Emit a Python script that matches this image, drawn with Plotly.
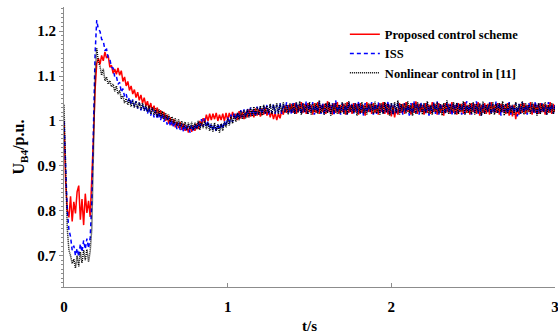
import plotly.graph_objects as go

# Time axis, 10 ms sampling from 0 to 3 s
t = [round(i * 0.01, 2) for i in range(301)]

# Bus B4 voltage (p.u.) under the proposed control scheme
u_proposed = [
    1.000, 0.865, 0.802, 0.785, 0.832, 0.776, 0.820, 0.794, 0.842, 0.856,
    0.780, 0.826, 0.768, 0.838, 0.795, 0.822, 0.786, 0.862, 0.965, 1.070,
    1.128, 1.140, 1.126, 1.146, 1.134, 1.154, 1.140, 1.146, 1.120, 1.124,
    1.106, 1.116, 1.104, 1.118, 1.102, 1.112, 1.088, 1.098, 1.078, 1.088,
    1.068, 1.078, 1.060, 1.070, 1.052, 1.064, 1.046, 1.058, 1.040, 1.052,
    1.034, 1.044, 1.026, 1.040, 1.022, 1.034, 1.016, 1.030, 1.010, 1.024,
    1.006, 1.020, 1.000, 1.014, 0.994, 1.008, 0.990, 1.004, 0.986, 0.998,
    0.984, 0.998, 0.980, 0.994, 0.978, 0.990, 0.974, 0.988, 0.976, 0.990,
    0.978, 0.994, 0.982, 1.000, 0.990, 1.006, 0.996, 1.014, 1.000, 1.016,
    1.002, 1.016, 1.004, 1.018, 1.000, 1.014, 1.002, 1.016, 1.000, 1.018,
    1.002, 1.018, 1.004, 1.020, 1.006, 1.016, 1.002, 1.022, 1.006, 1.020,
    1.004, 1.020, 1.008, 1.026, 1.010, 1.024, 1.008, 1.028, 1.012, 1.026,
    1.010, 1.028, 1.014, 1.030, 1.012, 1.026, 1.008, 1.022, 1.004, 1.018,
    1.002, 1.016, 1.006, 1.024, 1.014, 1.034, 1.018, 1.036, 1.020, 1.038,
    1.018, 1.040, 1.016, 1.036, 1.022, 1.042, 1.018, 1.038, 1.016, 1.040,
    1.020, 1.036, 1.014, 1.040, 1.018, 1.042, 1.016, 1.036, 1.020, 1.038,
    1.016, 1.044, 1.020, 1.036, 1.014, 1.040, 1.018, 1.042, 1.016, 1.036,
    1.020, 1.038, 1.014, 1.042, 1.018, 1.036, 1.016, 1.040, 1.020, 1.038,
    1.014, 1.040, 1.018, 1.036, 1.012, 1.042, 1.020, 1.038, 1.016, 1.040,
    1.018, 1.036, 1.014, 1.040, 1.020, 1.042, 1.016, 1.038, 1.014, 1.036,
    1.010, 1.034, 1.008, 1.030, 1.014, 1.040, 1.018, 1.038, 1.016, 1.042,
    1.020, 1.036, 1.014, 1.040, 1.018, 1.044, 1.016, 1.038, 1.020, 1.036,
    1.014, 1.040, 1.018, 1.036, 1.016, 1.042, 1.020, 1.038, 1.014, 1.040,
    1.018, 1.036, 1.012, 1.040, 1.020, 1.038, 1.016, 1.042, 1.018, 1.036,
    1.014, 1.040, 1.020, 1.038, 1.016, 1.042, 1.018, 1.036, 1.014, 1.040,
    1.020, 1.038, 1.016, 1.042, 1.012, 1.036, 1.018, 1.040, 1.016, 1.038,
    1.014, 1.042, 1.020, 1.036, 1.018, 1.040, 1.014, 1.038, 1.020, 1.036,
    1.016, 1.040, 1.012, 1.034, 1.010, 1.036, 1.004, 1.028, 1.014, 1.038,
    1.018, 1.040, 1.016, 1.036, 1.020, 1.042, 1.014, 1.038, 1.018, 1.036,
    1.016, 1.040, 1.020, 1.038, 1.014, 1.036, 1.018, 1.042, 1.016, 1.038,
    1.020,
]

# Bus B4 voltage (p.u.) under ISS control
u_iss = [
    1.000, 0.905, 0.800, 0.758, 0.742, 0.712, 0.722, 0.700, 0.716, 0.698,
    0.726, 0.708, 0.734, 0.714, 0.738, 0.716, 0.740, 0.820, 1.000, 1.150,
    1.225, 1.204, 1.200, 1.182, 1.178, 1.158, 1.160, 1.140, 1.138, 1.120,
    1.118, 1.098, 1.100, 1.082, 1.086, 1.064, 1.072, 1.054, 1.060, 1.044,
    1.052, 1.036, 1.048, 1.032, 1.044, 1.028, 1.040, 1.024, 1.036, 1.022,
    1.034, 1.016, 1.030, 1.012, 1.028, 1.008, 1.024, 1.004, 1.020, 1.002,
    1.016, 0.998, 1.012, 0.992, 1.008, 0.988, 1.002, 0.986, 0.998, 0.982,
    0.996, 0.980, 0.994, 0.976, 0.992, 0.978, 0.990, 0.974, 0.992, 0.976,
    0.994, 0.980, 0.998, 0.984, 1.004, 0.988, 1.006, 0.986, 1.000, 0.982,
    0.994, 0.978, 0.992, 0.976, 0.994, 0.980, 0.996, 0.982, 1.000, 0.988,
    1.008, 0.994, 1.014, 0.998, 1.018, 1.002, 1.020, 1.004, 1.024, 1.008,
    1.026, 1.008, 1.028, 1.010, 1.030, 1.012, 1.028, 1.010, 1.032, 1.014,
    1.032, 1.014, 1.034, 1.016, 1.036, 1.014, 1.034, 1.018, 1.038, 1.016,
    1.036, 1.018, 1.040, 1.016, 1.038, 1.020, 1.042, 1.018, 1.036, 1.014,
    1.040, 1.016, 1.042, 1.020, 1.038, 1.014, 1.040, 1.018, 1.044, 1.016,
    1.038, 1.020, 1.042, 1.014, 1.036, 1.018, 1.044, 1.016, 1.040, 1.014,
    1.038, 1.020, 1.042, 1.016, 1.040, 1.012, 1.046, 1.018, 1.036, 1.014,
    1.040, 1.018, 1.036, 1.014, 1.042, 1.020, 1.038, 1.016, 1.040, 1.018,
    1.044, 1.016, 1.038, 1.012, 1.040, 1.018, 1.036, 1.020, 1.042, 1.014,
    1.038, 1.016, 1.042, 1.020, 1.036, 1.014, 1.040, 1.018, 1.044, 1.016,
    1.040, 1.012, 1.038, 1.016, 1.042, 1.020, 1.036, 1.014, 1.040, 1.018,
    1.036, 1.012, 1.040, 1.016, 1.044, 1.018, 1.038, 1.014, 1.042, 1.020,
    1.038, 1.016, 1.040, 1.012, 1.036, 1.018, 1.042, 1.016, 1.044, 1.014,
    1.040, 1.018, 1.036, 1.014, 1.042, 1.020, 1.038, 1.012, 1.040, 1.016,
    1.042, 1.018, 1.038, 1.014, 1.040, 1.016, 1.044, 1.020, 1.036, 1.014,
    1.040, 1.018, 1.044, 1.016, 1.038, 1.012, 1.040, 1.018, 1.036, 1.020,
    1.042, 1.014, 1.038, 1.016, 1.044, 1.018, 1.040, 1.012, 1.036, 1.020,
    1.038, 1.016, 1.042, 1.014, 1.036, 1.018, 1.040, 1.010, 1.038, 1.016,
    1.042, 1.018, 1.036, 1.014, 1.040, 1.020, 1.038, 1.016, 1.044, 1.012,
    1.038, 1.016, 1.040, 1.018, 1.036, 1.014, 1.042, 1.020, 1.038, 1.016,
    1.036,
]

# Bus B4 voltage (p.u.) under the nonlinear control of [11]
u_nonlinear = [
    1.036, 0.880, 0.760, 0.712, 0.700, 0.682, 0.692, 0.672, 0.700, 0.676,
    0.708, 0.684, 0.712, 0.690, 0.714, 0.686, 0.710, 0.760, 0.930, 1.100,
    1.162, 1.132, 1.122, 1.102, 1.116, 1.090, 1.098, 1.082, 1.090, 1.076,
    1.082, 1.066, 1.078, 1.060, 1.068, 1.050, 1.056, 1.040, 1.050, 1.036,
    1.048, 1.032, 1.046, 1.030, 1.044, 1.028, 1.042, 1.026, 1.040, 1.024,
    1.036, 1.020, 1.034, 1.016, 1.030, 1.014, 1.028, 1.010, 1.026, 1.008,
    1.022, 1.004, 1.018, 1.002, 1.014, 0.998, 1.010, 0.994, 1.006, 0.990,
    1.004, 0.986, 1.000, 0.984, 0.998, 0.980, 0.996, 0.982, 0.998, 0.980,
    0.996, 0.982, 1.000, 0.980, 0.998, 0.984, 1.000, 0.982, 0.996, 0.978,
    0.994, 0.976, 0.996, 0.978, 0.992, 0.974, 0.994, 0.978, 0.998, 0.986,
    1.004, 0.990, 1.010, 0.994, 1.014, 0.998, 1.018, 1.002, 1.022, 1.004,
    1.024, 1.006, 1.026, 1.008, 1.030, 1.010, 1.032, 1.012, 1.030, 1.014,
    1.034, 1.012, 1.036, 1.016, 1.034, 1.018, 1.038, 1.016, 1.036, 1.018,
    1.040, 1.016, 1.038, 1.020, 1.042, 1.018, 1.036, 1.014, 1.040, 1.020,
    1.038, 1.016, 1.042, 1.018, 1.044, 1.014, 1.040, 1.020, 1.036, 1.016,
    1.042, 1.014, 1.038, 1.020, 1.040, 1.016, 1.046, 1.018, 1.036, 1.014,
    1.040, 1.018, 1.042, 1.012, 1.038, 1.020, 1.040, 1.016, 1.036, 1.018,
    1.042, 1.016, 1.040, 1.014, 1.044, 1.020, 1.036, 1.018, 1.040, 1.012,
    1.038, 1.018, 1.042, 1.016, 1.036, 1.014, 1.040, 1.020, 1.038, 1.016,
    1.044, 1.018, 1.036, 1.014, 1.040, 1.016, 1.042, 1.020, 1.038, 1.012,
    1.040, 1.016, 1.042, 1.018, 1.046, 1.014, 1.038, 1.020, 1.040, 1.016,
    1.044, 1.018, 1.036, 1.012, 1.040, 1.016, 1.042, 1.020, 1.038, 1.014,
    1.040, 1.018, 1.044, 1.016, 1.036, 1.014, 1.040, 1.020, 1.042, 1.016,
    1.038, 1.012, 1.040, 1.018, 1.046, 1.016, 1.036, 1.020, 1.042, 1.014,
    1.040, 1.016, 1.038, 1.020, 1.044, 1.014, 1.036, 1.018, 1.040, 1.016,
    1.042, 1.014, 1.038, 1.018, 1.040, 1.012, 1.044, 1.016, 1.036, 1.020,
    1.040, 1.016, 1.042, 1.014, 1.038, 1.018, 1.040, 1.020, 1.044, 1.012,
    1.038, 1.016, 1.040, 1.018, 1.036, 1.014, 1.042, 1.020, 1.038, 1.016,
    1.044, 1.014, 1.040, 1.018, 1.036, 1.016, 1.042, 1.020, 1.038, 1.012,
    1.040, 1.016, 1.038, 1.020, 1.042, 1.014, 1.036, 1.018, 1.040, 1.016,
    1.034,
]

series_names = ["Proposed control scheme", "ISS", "Nonlinear control in [11]"]
x_tick_vals = [0, 1, 2, 3]

FONT = "Liberation Serif, Times New Roman, serif"
AXIS_GREY = "#8c8c8c"

fig = go.Figure()
fig.add_trace(go.Scatter(
    x=t, y=u_proposed, mode="lines", name=series_names[0],
    line=dict(color="#ff0000", width=1.5),
))
fig.add_trace(go.Scatter(
    x=t, y=u_iss, mode="lines", name=series_names[1],
    line=dict(color="#0000ff", width=1.5, dash="4px,3px"),
))
fig.add_trace(go.Scatter(
    x=t, y=u_nonlinear, mode="lines", name=series_names[2],
    line=dict(color="#000000", width=1.5, dash="1px,1px"),
))

fig.update_layout(
    width=558, height=335,
    margin=dict(l=64, r=3, t=7, b=48, autoexpand=False),
    paper_bgcolor="white", plot_bgcolor="white",
    font=dict(family=FONT, color="black", size=15, weight="bold"),
    showlegend=True,
    legend=dict(
        x=0.572, y=0.955, xanchor="left", yanchor="top",
        bgcolor="rgba(0,0,0,0)", borderwidth=0,
        font=dict(family=FONT, size=12.5, weight="bold"),
        tracegroupgap=0, itemwidth=30,
    ),
    xaxis=dict(
        range=[0, 3], tickvals=x_tick_vals, automargin=False,
        showgrid=False, zeroline=False,
        showline=True, linecolor=AXIS_GREY, linewidth=1,
        ticks="inside", ticklen=4, tickcolor=AXIS_GREY,
        tickfont=dict(family=FONT, size=15, weight="bold"),
        ticklabelstandoff=6, ticklabeloverflow="allow",
        title=dict(text="t/s", font=dict(family=FONT, size=15, weight="bold"), standoff=6),
    ),
    yaxis=dict(
        range=[0.63, 1.254], tick0=0.7, dtick=0.1, automargin=False,
        showgrid=False, zeroline=False,
        showline=True, linecolor=AXIS_GREY, linewidth=1,
        ticks="outside", ticklen=4, tickcolor=AXIS_GREY,
        minor=dict(dtick=0.01, tick0=0.7, ticks="outside", ticklen=2.5,
                   tickcolor=AXIS_GREY, showgrid=False),
        tickfont=dict(family=FONT, size=15, weight="bold"),
        title=dict(text="U<sub>B4</sub>/p.u.", font=dict(family=FONT, size=16, weight="bold"), standoff=8),
    ),
)

fig.write_html("out.html")
